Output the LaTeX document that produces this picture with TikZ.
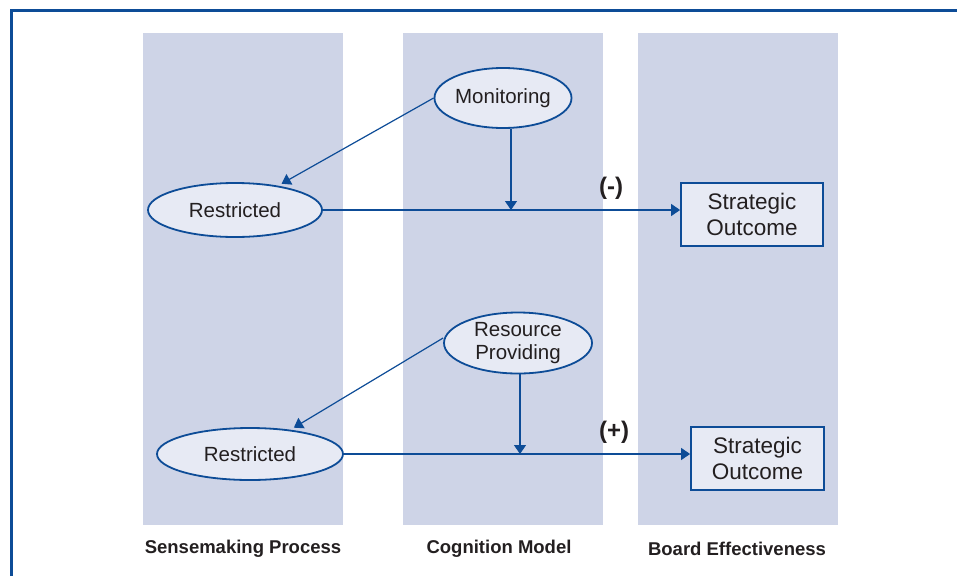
\documentclass[tikz,border=0pt]{standalone}
\usepackage{fontspec}
\setmainfont{Liberation Sans}
\usepackage{tikz}
\usetikzlibrary{shapes.geometric,arrows.meta}
\definecolor{ink}{HTML}{231F20}
\definecolor{navy}{HTML}{0D4C97}
\definecolor{band}{HTML}{CED4E7}
\definecolor{pale}{HTML}{E7EAF4}
\tikzset{
  frame/.style={draw=navy, line width=3pt},
  lane/.style={fill=band},
  oval/.style={ellipse, draw=navy, fill=pale, line width=1.8pt, inner sep=0pt,
    text=ink, font=\fontsize{20.5}{23}\selectfont, align=center},
  outbox/.style={rectangle, draw=navy, fill=pale, line width=1.8pt, inner sep=0pt,
    minimum width=143pt, minimum height=63pt, text=ink,
    font=\fontsize{22.5}{26}\selectfont, align=center},
  link/.style={draw=navy, line width=1.2pt, -{Triangle[length=9pt,width=12pt]}},
  lanelab/.style={text=ink, font=\bfseries\fontsize{18.5}{20}\selectfont},
  sign/.style={text=ink, font=\bfseries\fontsize{24}{26}\selectfont}
}

\begin{document}
\begin{tikzpicture}[x=1pt, y=-1pt]
  \useasboundingbox (0,0) rectangle (957,576);

  % outer frame, open at right and bottom
  \draw[frame] (11,576) -- (11,10) -- (957,10);

  % three lanes
  \fill[lane] (143,33) rectangle (343,525);
  \fill[lane] (403,33) rectangle (603,525);
  \fill[lane] (638,33) rectangle (838,525);

  \node[lanelab] (l1) at (243,549) {Sensemaking Process};
  \node[lanelab] (l2) at (499,549) {Cognition Model};
  \node[lanelab] (l3) at (737,549) {Board Effectiveness};

  % upper path
  \node[oval, minimum width=137pt, minimum height=60pt] (mon) at (503,98) {Monitoring};
  \node[oval, minimum width=174pt, minimum height=54pt] (res1) at (235,210) {Restricted};
  \node[outbox, minimum width=142pt] (so1) at (752,214.5) {Strategic\\Outcome};
  \coordinate (m1) at (511,210);

  \draw[link] (res1.east) -- (res1.east -| so1.west);
  \draw[link] (m1 |- mon.south) -- (m1);
  \draw[link, shorten >=4pt] (mon.west) -- (res1);
  \node[sign] (neg) at (611,188) {(-)};

  % lower path
  \node[oval, minimum width=148pt, minimum height=61pt] (rp) at (518,343) {Resource\\Providing};
  \node[oval, minimum width=186pt, minimum height=52pt] (res2) at (250,454) {Restricted};
  \node[outbox, minimum width=133pt] (so2) at (757.5,458.5) {Strategic\\Outcome};
  \coordinate (m2) at (520,454);

  \draw[link] (res2.east) -- (res2.east -| so2.west);
  \draw[link] (m2 |- rp.south) -- (m2);
  \draw[link, shorten >=4pt] ([yshift=5pt]rp.west) -- (res2);
  \node[sign] (pos) at (614,432) {(+)};
\end{tikzpicture}
\end{document}
